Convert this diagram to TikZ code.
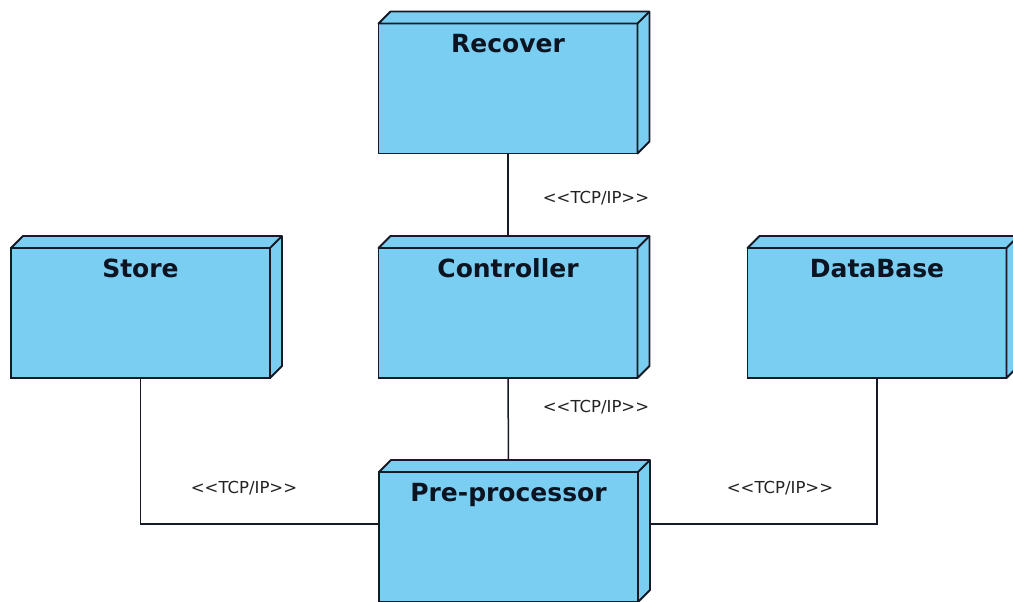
\documentclass[tikz,border=0pt]{standalone}
\usepackage{fontspec}
\setmainfont{DejaVu Sans}
\newfontfamily\protofont{DejaVu Sans}
\definecolor{nodefill}{RGB}{122,206,242}
\definecolor{edge}{RGB}{22,26,38}
\definecolor{titleink}{RGB}{12,20,34}
\definecolor{labelgray}{RGB}{34,34,34}
\tikzset{
  depnode/.style={draw=edge, fill=nodefill, line width=1.8pt,
    minimum width=259pt, minimum height=130pt, inner sep=0pt, outer sep=0pt},
  face/.style={draw=edge, fill=nodefill, line width=1.8pt, line join=round},
  title/.style={font=\bfseries\fontsize{25}{28}\selectfont, text=titleink, inner sep=0pt, anchor=base},
  wire/.style={draw=edge, line width=1.5pt},
  proto/.style={font=\protofont\fontsize{16.5}{19}\selectfont, text=labelgray, inner sep=0pt}
}
% front face as a node, then the top and right faces of the 3D box
\newcommand\depbox[3]{%
  \node[depnode] (#1) at (#2) {};
  \draw[face] (#1.north west) -- ++(12,-12) -- ([shift={(12pt,12pt)}]#1.north east)
    -- ([shift={(12pt,12pt)}]#1.south east) -- (#1.south east) -- (#1.north east) -- cycle;
  \draw[face] (#1.north east) -- ++(12,-12);
  \node[title] (#1-t) at ([yshift=-29pt]#1.north) {#3};
}
\newcommand\tcpip{<\kern0pt<TCP/IP>\kern0pt>}
\begin{document}
\begin{tikzpicture}[x=1pt, y=-1pt]
  \useasboundingbox (0,0) rectangle (1013,602);
  \fill[white] (0,0) rectangle (1013,602);
  \clip (0,0) rectangle (1013,602);

  \depbox{rec}{508,88.5}{Recover}
  \depbox{store}{140.5,313}{Store}
  \depbox{ctrl}{508,313}{Controller}
  \depbox{db}{877,313}{DataBase}
  \depbox{pre}{508.5,537}{Pre-processor}

  \draw[wire] (rec.south) -- ([yshift=12pt]ctrl.north);
  \draw[wire] (ctrl.south) -- ([yshift=12pt]pre.north);
  \draw[wire] (store.south) |- ([yshift=13pt]pre.west);
  \draw[wire] ([shift={(12pt,13pt)}]pre.east) -| (db.south);

  \node[proto] (l1) at (596,198) {\tcpip};
  \node[proto] (l2) at (596,407) {\tcpip};
  \node[proto] (l3) at (244,488) {\tcpip};
  \node[proto] (l4) at (780,488) {\tcpip};
\end{tikzpicture}
\end{document}
